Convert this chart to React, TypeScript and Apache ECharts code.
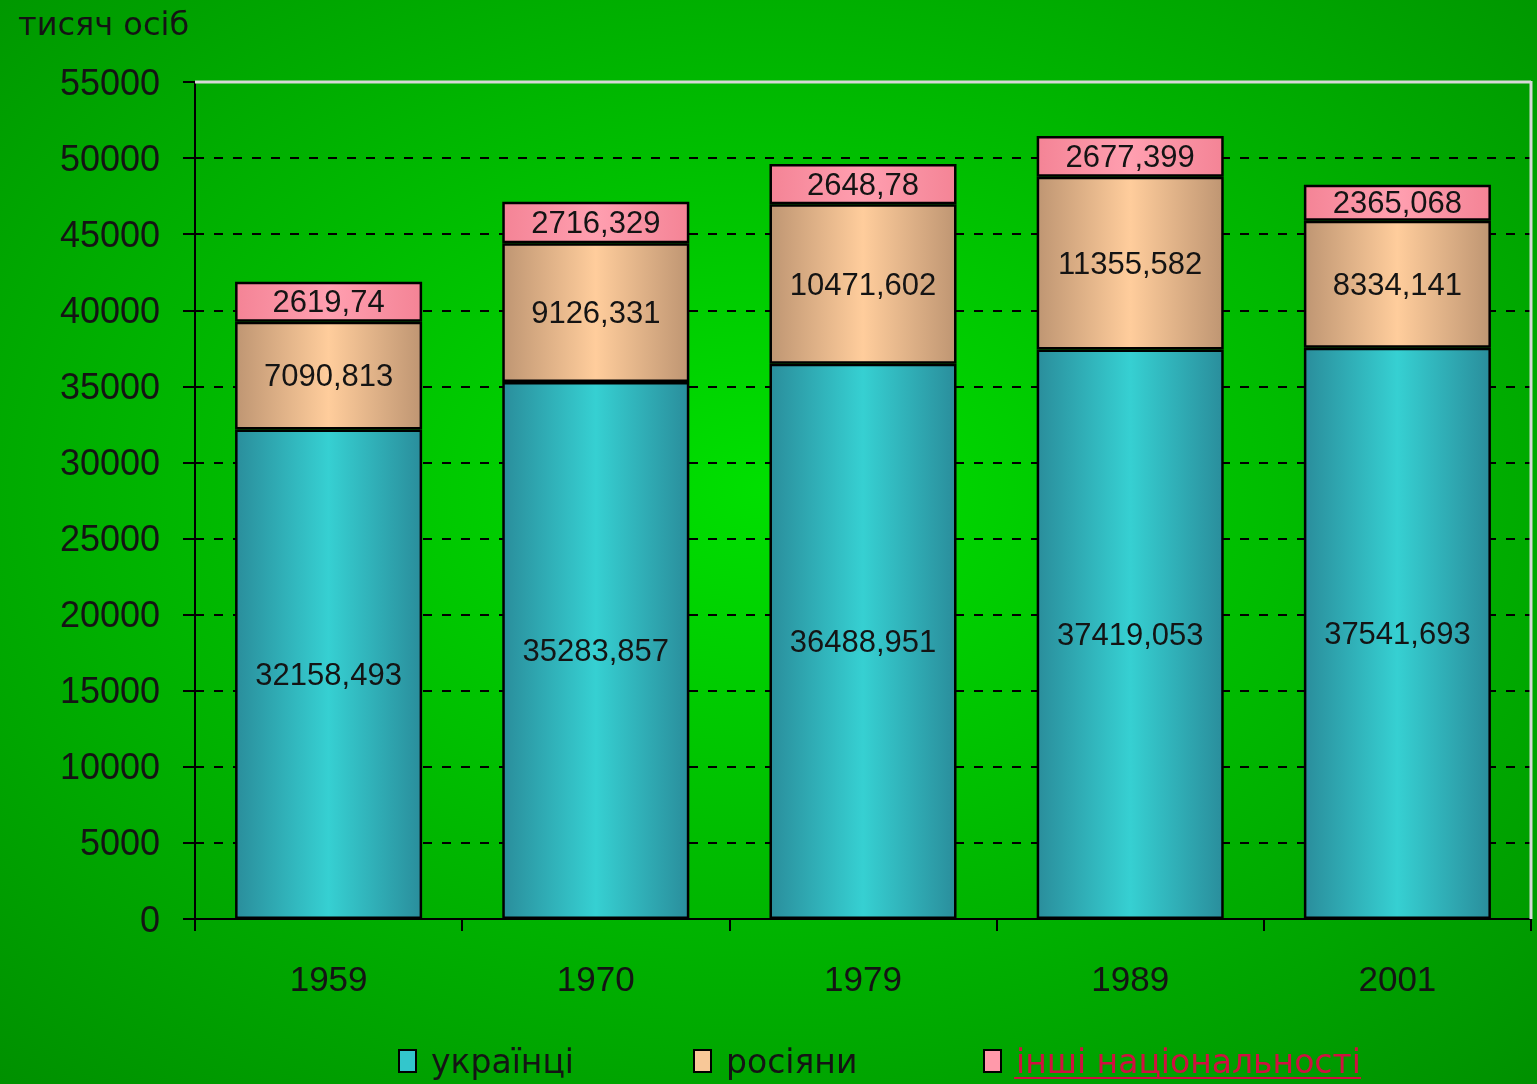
import React, { useEffect, useRef } from "react";
import * as echarts from "echarts";

const years = ["1959", "1970", "1979", "1989", "2001"];
const ukrainians = [32158.493, 35283.857, 36488.951, 37419.053, 37541.693];
const russians = [7090.813, 9126.331, 10471.602, 11355.582, 8334.141];
const others = [2619.74, 2716.329, 2648.78, 2677.399, 2365.068];
const seriesNames = ["українці", "росіяни", "інші національності"];
const yTicks = { min: 0, max: 55000, interval: 5000 };

const FONT = "Liberation Sans, Arial, sans-serif";
const WIDE = "DejaVu Sans, sans-serif";
const TXT = "#141414";

const hGrad = (edge: string, mid: string) => ({
  type: "linear",
  x: 0,
  y: 0,
  x2: 1,
  y2: 0,
  colorStops: [
    { offset: 0, color: edge },
    { offset: 0.5, color: mid },
    { offset: 1, color: edge },
  ],
});

const fmt = (p: any) => String(p.value).replace(".", ",");

export default function App() {
  const ref = useRef<HTMLDivElement>(null);
  useEffect(() => {
    const chart = echarts.init(ref.current!, null, { renderer: "svg" });
    const label = {
      show: true,
      position: "inside",
      formatter: fmt,
      color: TXT,
      fontFamily: FONT,
      fontSize: 31,
    };
    const mk = (name: string, data: number[], color: any) => ({
      name,
      type: "bar",
      stack: "total",
      data,
      barCategoryGap: "30%",
      itemStyle: { color, borderColor: "#000", borderWidth: 2.5 },
      label,
    });
    const legendColors = ["#33c6cc", "#f8c898", "#ff99aa"];
    const legendLefts = [398, 693, 983];
    const legends = seriesNames.map((n, i) => ({
      top: 1044,
      left: legendLefts[i],
      padding: 0,
      itemWidth: 17,
      itemHeight: 22,
      icon: "rect",
      textStyle: {
        color: i === 2 ? "#d01040" : TXT,
        fontFamily: WIDE,
        fontSize: 33,
        lineHeight: 34,
        padding: [0, 0, 0, 10],
      },
      data: [
        {
          name: n,
          itemStyle: { color: legendColors[i], borderColor: "#000", borderWidth: 2 },
        },
      ],
    }));
    chart.setOption({
      animation: false,
      backgroundColor: {
        type: "radial",
        x: 0.5,
        y: 0.45,
        r: 0.8,
        colorStops: [
          { offset: 0, color: "#00e000" },
          { offset: 1, color: "#008a00" },
        ],
      },
      title: {
        text: "тисяч осіб",
        left: 13,
        top: 3,
        textStyle: { color: TXT, fontFamily: WIDE, fontSize: 32, fontWeight: "normal" },
      },
      grid: {
        left: 195,
        right: 6,
        top: 82,
        bottom: 165,
      },
      legend: legends,
      xAxis: {
        type: "category",
        data: years,
        axisLine: { lineStyle: { color: "#000", width: 2 } },
        axisTick: { show: true, length: 12, lineStyle: { color: "#000", width: 2 } },
        axisLabel: { color: TXT, fontFamily: FONT, fontSize: 35, margin: 42 },
      },
      yAxis: {
        type: "value",
        min: yTicks.min,
        max: yTicks.max,
        interval: yTicks.interval,
        axisLine: { show: true, lineStyle: { color: "#000", width: 2 } },
        axisTick: { show: true, length: 12, lineStyle: { color: "#000", width: 2 } },
        axisLabel: {
          color: TXT,
          fontFamily: FONT,
          fontSize: 36,
          margin: 35,
          formatter: (v: number) => String(v),
        },
        splitLine: { show: true, lineStyle: { color: "#000", width: 2, type: [9, 10] } },
      },
      graphic: [
        {
          type: "line",
          z: 100,
          shape: { x1: 195, y1: 82, x2: 1531, y2: 82 },
          style: { stroke: "#d8d8d8", lineWidth: 3 },
        },
        {
          type: "line",
          z: 100,
          shape: { x1: 1531, y1: 81, x2: 1531, y2: 919 },
          style: { stroke: "#d8d8d8", lineWidth: 3 },
        },
        {
          type: "line",
          z: 100,
          shape: { x1: 1014, y1: 1078, x2: 1361, y2: 1078 },
          style: { stroke: "#d01040", lineWidth: 2 },
        },
      ],
      series: [
        mk(seriesNames[0], ukrainians, hGrad("#2a8e9c", "#36d0d2")),
        mk(seriesNames[1], russians, hGrad("#bf9673", "#ffcd9c")),
        mk(seriesNames[2], others, hGrad("#f48496", "#ff9fb0")),
      ],
    });
    return () => chart.dispose();
  }, []);
  return (
    <div
      ref={ref}
      style={{ position: "fixed", left: 0, top: 0, width: 1537, height: 1084 }}
    />
  );
}
